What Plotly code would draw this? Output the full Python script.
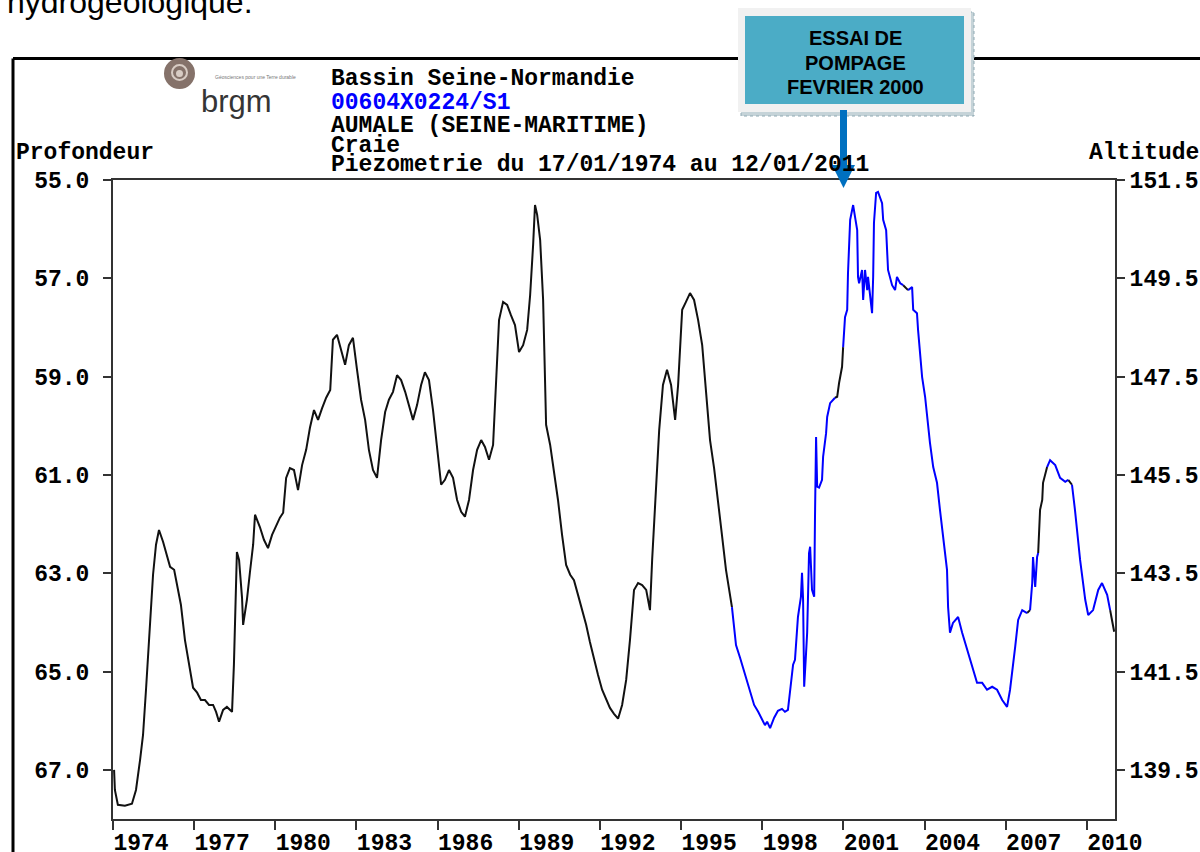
import plotly.graph_objects as go

# ---------------- data ----------------
years = [
    1974.04, 1974.07, 1974.18, 1974.44, 1974.70, 1974.85, 1975.00, 1975.11, 1975.22, 1975.37,
    1975.48, 1975.59, 1975.70, 1975.85, 1976.00, 1976.11, 1976.26, 1976.37, 1976.51, 1976.66,
    1976.81, 1976.96, 1977.11, 1977.25, 1977.40, 1977.55, 1977.70, 1977.81, 1977.92, 1978.07,
    1978.21, 1978.40, 1978.47, 1978.55, 1978.58, 1978.66, 1978.77, 1978.81, 1978.95, 1979.06,
    1979.18, 1979.25, 1979.43, 1979.58, 1979.73, 1979.88, 1980.03, 1980.17, 1980.29, 1980.40,
    1980.54, 1980.69, 1980.84, 1980.99, 1981.14, 1981.28, 1981.43, 1981.58, 1981.73, 1981.88,
    1982.03, 1982.13, 1982.28, 1982.43, 1982.58, 1982.72, 1982.87, 1983.02, 1983.17, 1983.32,
    1983.46, 1983.61, 1983.76, 1983.91, 1984.06, 1984.20, 1984.35, 1984.50, 1984.65, 1984.80,
    1984.94, 1985.09, 1985.24, 1985.39, 1985.53, 1985.68, 1985.83, 1985.98, 1986.13, 1986.27,
    1986.42, 1986.57, 1986.72, 1986.87, 1987.01, 1987.16, 1987.31, 1987.46, 1987.61, 1987.75,
    1987.90, 1988.05, 1988.16, 1988.27, 1988.42, 1988.57, 1988.71, 1988.86, 1989.01, 1989.16,
    1989.31, 1989.42, 1989.53, 1989.60, 1989.68, 1989.79, 1989.90, 1990.01, 1990.16, 1990.30,
    1990.45, 1990.60, 1990.75, 1990.90, 1991.04, 1991.19, 1991.34, 1991.49, 1991.63, 1991.78,
    1991.93, 1992.08, 1992.23, 1992.37, 1992.52, 1992.67, 1992.82, 1992.97, 1993.11, 1993.26,
    1993.41, 1993.56, 1993.71, 1993.85, 1993.93, 1994.04, 1994.19, 1994.33, 1994.48, 1994.63,
    1994.78, 1994.89, 1995.04, 1995.18, 1995.33, 1995.48, 1995.63, 1995.78, 1995.92, 1996.07,
    1996.22, 1996.37, 1996.51, 1996.66, 1996.81, 1996.88, 1997.03, 1997.18, 1997.37, 1997.55,
    1997.70, 1997.85, 1997.99, 1998.10, 1998.18, 1998.29, 1998.44, 1998.58, 1998.73, 1998.84,
    1998.95, 1999.03, 1999.14, 1999.21, 1999.32, 1999.43, 1999.47, 1999.51, 1999.55, 1999.62,
    1999.66, 1999.73, 1999.77, 1999.84, 1999.92, 1999.95, 1999.99, 2000.03, 2000.10, 2000.21,
    2000.25, 2000.36, 2000.40, 2000.51, 2000.69, 2000.77, 2000.84, 2000.95, 2000.99, 2001.06,
    2001.14, 2001.17, 2001.25, 2001.32, 2001.36, 2001.43, 2001.51, 2001.54, 2001.58, 2001.69,
    2001.73, 2001.80, 2001.88, 2001.91, 2001.99, 2002.06, 2002.10, 2002.13, 2002.21, 2002.28,
    2002.43, 2002.47, 2002.58, 2002.65, 2002.80, 2002.91, 2002.98, 2003.10, 2003.21, 2003.39,
    2003.54, 2003.58, 2003.72, 2003.76, 2003.84, 2003.91, 2004.02, 2004.09, 2004.20, 2004.32,
    2004.46, 2004.57, 2004.69, 2004.83, 2004.87, 2004.94, 2005.05, 2005.24, 2005.39, 2005.57,
    2005.76, 2005.94, 2006.13, 2006.31, 2006.50, 2006.68, 2006.87, 2007.05, 2007.16, 2007.24,
    2007.35, 2007.46, 2007.61, 2007.79, 2007.90, 2007.98, 2008.01, 2008.09, 2008.16, 2008.20,
    2008.27, 2008.35, 2008.38, 2008.53, 2008.64, 2008.83, 2009.01, 2009.20, 2009.31, 2009.45,
    2009.56, 2009.75, 2009.94, 2010.05, 2010.23, 2010.42, 2010.56, 2010.75, 2010.86, 2011.01,
]
depth = [
    67.00, 67.41, 67.71, 67.73, 67.69, 67.41, 66.80, 66.29, 65.37, 63.95,
    63.03, 62.42, 62.12, 62.36, 62.63, 62.87, 62.93, 63.24, 63.64, 64.36,
    64.86, 65.33, 65.43, 65.58, 65.58, 65.68, 65.68, 65.82, 66.02, 65.78,
    65.72, 65.82, 64.86, 63.24, 62.57, 62.73, 63.50, 64.05, 63.54, 62.99,
    62.42, 61.81, 62.06, 62.32, 62.49, 62.22, 62.02, 61.87, 61.77, 61.06,
    60.86, 60.90, 61.31, 60.80, 60.49, 60.04, 59.68, 59.88, 59.64, 59.43,
    59.27, 58.25, 58.15, 58.46, 58.76, 58.36, 58.21, 58.86, 59.47, 59.88,
    60.49, 60.90, 61.06, 60.29, 59.72, 59.47, 59.31, 58.97, 59.07, 59.31,
    59.58, 59.88, 59.58, 59.17, 58.91, 59.07, 59.68, 60.39, 61.20, 61.10,
    60.90, 61.06, 61.51, 61.75, 61.85, 61.51, 60.90, 60.49, 60.29, 60.43,
    60.69, 60.39, 59.07, 57.85, 57.48, 57.54, 57.75, 57.95, 58.50, 58.36,
    58.05, 57.34, 56.32, 55.51, 55.71, 56.22, 57.44, 59.98, 60.39, 60.90,
    61.51, 62.22, 62.83, 63.03, 63.14, 63.44, 63.75, 64.05, 64.40, 64.76,
    65.07, 65.37, 65.58, 65.74, 65.86, 65.96, 65.68, 65.17, 64.36, 63.34,
    63.20, 63.24, 63.34, 63.75, 62.73, 61.51, 60.09, 59.17, 58.86, 59.17,
    59.88, 59.17, 57.64, 57.48, 57.30, 57.44, 57.85, 58.36, 59.27, 60.29,
    60.86, 61.51, 62.22, 62.93, 63.44, 63.69, 64.46, 64.72, 65.07, 65.37,
    65.68, 65.82, 65.98, 66.09, 66.02, 66.15, 65.94, 65.80, 65.76, 65.82,
    65.78, 65.37, 64.86, 64.76, 63.89, 63.48, 62.99, 63.54, 65.31, 64.62,
    64.21, 62.59, 62.46, 63.34, 63.48, 61.85, 60.23, 61.24, 61.26, 61.10,
    60.63, 60.15, 59.82, 59.54, 59.43, 59.41, 59.13, 58.80, 58.40, 57.79,
    57.64, 56.89, 55.81, 55.61, 55.51, 55.75, 56.02, 56.97, 57.10, 56.83,
    57.44, 56.83, 57.24, 56.97, 57.38, 57.71, 56.97, 55.87, 55.26, 55.24,
    55.47, 55.81, 56.02, 56.83, 57.14, 57.24, 56.97, 57.10, 57.14, 57.24,
    57.18, 57.64, 57.71, 58.05, 58.52, 59.01, 59.41, 59.82, 60.35, 60.84,
    61.16, 61.71, 62.26, 62.93, 63.69, 64.21, 64.01, 63.89, 64.21, 64.56,
    64.91, 65.23, 65.23, 65.37, 65.31, 65.37, 65.58, 65.72, 65.37, 65.03,
    64.50, 63.95, 63.75, 63.81, 63.75, 63.20, 62.67, 63.28, 62.67, 62.59,
    61.71, 61.51, 61.16, 60.84, 60.70, 60.80, 61.06, 61.14, 61.10, 61.20,
    61.71, 62.73, 63.54, 63.85, 63.75, 63.34, 63.20, 63.44, 63.75, 64.19,
]
# periods drawn in blue (the rest in black)
blue_periods = [(1996.87, 2000.72), (2000.98, 2003.22), (2003.38, 2007.78),
                (2007.89, 2008.21), (2008.52, 2009.32), (2009.44, 2010.87)]

year_ticks = [1974, 1977, 1980, 1983, 1986, 1989, 1992, 1995, 1998, 2001, 2004, 2007, 2010]
depth_ticks = [55.0, 57.0, 59.0, 61.0, 63.0, 65.0, 67.0]
altitude_ticks = [151.5, 149.5, 147.5, 145.5, 143.5, 141.5, 139.5]
ground_altitude = 206.5  # altitude = ground_altitude - depth

header_lines = ["Bassin Seine-Normandie", "00604X0224/S1", "AUMALE (SEINE-MARITIME)",
                "Craie", "Piezometrie du 17/01/1974 au 12/01/2011"]
callout_lines = ["ESSAI DE", "POMPAGE", "FEVRIER 2000"]

# ---------------- build coloured runs ----------------
def in_blue(t):
    return any(a <= t <= b for a, b in blue_periods)

seg_cols = ["b" if in_blue((years[i] + years[i + 1]) / 2) else "k" for i in range(len(years) - 1)]
runs = []
start = 0
for i in range(1, len(seg_cols) + 1):
    if i == len(seg_cols) or seg_cols[i] != seg_cols[start]:
        runs.append((seg_cols[start], start, i))  # points start..i
        start = i

traces_xy = {"k": ([], []), "b": ([], [])}
for col, s, e in runs:
    xs, ys = traces_xy[col]
    xs.extend(years[s:e + 1] + [None])
    ys.extend(depth[s:e + 1] + [None])

fig = go.Figure()
fig.add_trace(go.Scatter(x=traces_xy["k"][0], y=traces_xy["k"][1], mode="lines",
                         line=dict(color="#111111", width=2), hoverinfo="skip", showlegend=False))
fig.add_trace(go.Scatter(x=traces_xy["b"][0], y=traces_xy["b"][1], mode="lines",
                         line=dict(color="#0000ff", width=2), hoverinfo="skip", showlegend=False))
fig.add_trace(go.Scatter(x=years, y=[ground_altitude - d for d in depth], yaxis="y2", mode="lines",
                         line=dict(color="rgba(0,0,0,0)", width=0), hoverinfo="skip", showlegend=False))

# ---------------- layout helpers (pixel -> paper) ----------------
L, R, T, B = 113, 1115, 180, 819
def fx(x):
    return (x - L) / (R - L)
def fy(y):
    return (B - y) / (B - T)

MONO = "Liberation Mono, DejaVu Sans Mono, monospace"
tickfont = dict(family=MONO, size=23, color="black", weight="bold")
axcol = "#333333"

fig.update_layout(
    width=1200, height=852,
    margin=dict(l=L, r=1200 - R, t=T, b=852 - B, autoexpand=False),
    paper_bgcolor="white", plot_bgcolor="white",
    xaxis=dict(range=[1974.0, 2011.04], tickvals=year_ticks, ticktext=[str(v) for v in year_ticks],
               ticks="outside", ticklen=9, tickwidth=2, tickcolor=axcol,
               showline=True, linecolor=axcol, linewidth=2, mirror=True,
               showgrid=False, zeroline=False, tickfont=tickfont, ticklabelshift=28,
               ticklabelstandoff=-8),
    yaxis=dict(range=[68.0, 55.0], tickvals=depth_ticks, ticktext=[f"{v:.1f}" for v in depth_ticks],
               ticks="outside", ticklen=8, tickwidth=2, tickcolor=axcol,
               showline=True, linecolor=axcol, linewidth=2,
               showgrid=False, zeroline=False, tickfont=tickfont, ticklabelstandoff=9),
    yaxis2=dict(overlaying="y", side="right",
                range=[ground_altitude - 68.0, ground_altitude - 55.0],
                tickvals=altitude_ticks, ticktext=[f"{v:.1f}" for v in altitude_ticks],
                ticks="outside", ticklen=8, tickwidth=2, tickcolor=axcol,
                showline=True, linecolor=axcol, linewidth=2,
                showgrid=False, zeroline=False, tickfont=tickfont, ticklabelstandoff=0),
)

shapes = []
# black frame of the embedded picture
shapes.append(dict(type="line", xref="paper", yref="paper", x0=fx(13), x1=fx(1210), y0=fy(58.5), y1=fy(58.5),
                   line=dict(color="black", width=3), layer="above"))
shapes.append(dict(type="line", xref="paper", yref="paper", x0=fx(13), x1=fx(13), y0=fy(58.5), y1=fy(870),
                   line=dict(color="black", width=3), layer="above"))
# brgm logo disc
shapes.append(dict(type="circle", xref="paper", yref="paper", x0=fx(164), x1=fx(195), y0=fy(58), y1=fy(89),
                   fillcolor="#85726a", line=dict(width=0), layer="above"))
shapes.append(dict(type="circle", xref="paper", yref="paper", x0=fx(172), x1=fx(187), y0=fy(65), y1=fy(80),
                   fillcolor="rgba(0,0,0,0)", line=dict(color="#d8ccc4", width=2), layer="above"))
shapes.append(dict(type="circle", xref="paper", yref="paper", x0=fx(176), x1=fx(183), y0=fy(70), y1=fy(77),
                   fillcolor="#d8ccc4", line=dict(width=0), layer="above"))
# callout box: shadow, light frame, teal panel
shapes.append(dict(type="rect", xref="paper", yref="paper", x0=fx(741), x1=fx(974), y0=fy(12), y1=fy(116),
                   fillcolor="#c5d3d8", line=dict(color="#8fa9b3", width=1, dash="dot"), layer="above"))
shapes.append(dict(type="rect", xref="paper", yref="paper", x0=fx(738), x1=fx(971), y0=fy(8), y1=fy(112),
                   fillcolor="#f1f1f1", line=dict(width=0), layer="above"))
shapes.append(dict(type="rect", xref="paper", yref="paper", x0=fx(745), x1=fx(964), y0=fy(16), y1=fy(104),
                   fillcolor="#4bacc6", line=dict(width=0), layer="above"))
# arrow
shapes.append(dict(type="rect", xref="paper", yref="paper", x0=fx(840), x1=fx(847), y0=fy(110), y1=fy(167),
                   fillcolor="#0070c0", line=dict(width=0), layer="above"))
shapes.append(dict(type="path", xref="paper", yref="paper",
                   path=f"M {fx(832)},{fy(165)} L {fx(855)},{fy(165)} L {fx(843.5)},{fy(188)} Z",
                   fillcolor="#0070c0", line=dict(width=0), layer="above"))

ann = []
def txt(text, x, y, size, color="black", family=MONO, xanchor="left", weight="bold"):
    ann.append(dict(text=text, x=fx(x), y=fy(y), xref="paper", yref="paper", showarrow=False,
                    xanchor=xanchor, yanchor="middle",
                    font=dict(family=family, size=size, color=color, weight=weight)))

header_y = [79, 103, 126, 146, 165]
for i, (line, yy) in enumerate(zip(header_lines, header_y)):
    txt(line, 329, yy, 23, color="#0000ff" if i == 1 else "black")
txt("Profondeur", 14, 153, 23)
txt("Altitude", 1201, 153, 23, xanchor="right")
txt("hydrogéologique.", 5, 2, 32, family="Liberation Sans, Arial", weight="normal")
# logo text
txt("brgm", 199, 101, 31, color="#353535", family="Liberation Sans, Arial", weight="normal")
txt("Géosciences pour une Terre durable", 213, 77, 5, color="#777777", family="Liberation Sans", weight="normal")
# callout text
for line, yy in zip(callout_lines, [38, 63, 87]):
    txt(line, 855, yy, 20, family="Liberation Sans, Arial", xanchor="center")

fig.update_layout(shapes=shapes, annotations=ann)
fig.write_html("out.html", config={"displayModeBar": False},
               post_script="document.body.style.margin='0';document.body.style.overflow='hidden';")
